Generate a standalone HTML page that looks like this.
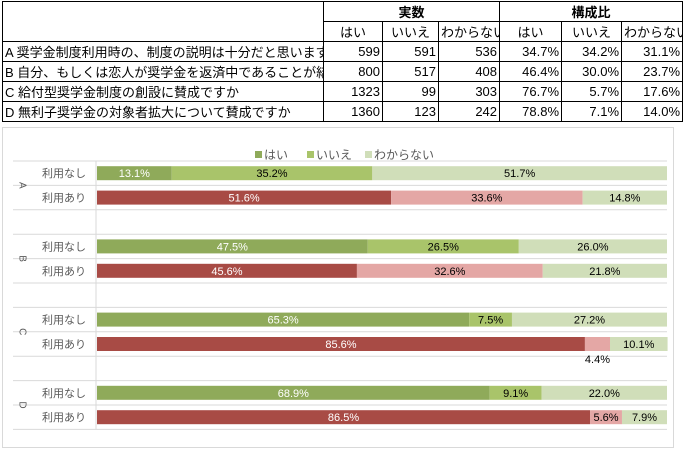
<!DOCTYPE html>
<html><head><meta charset="utf-8">
<style>
body{margin:0;width:684px;height:450px;background:#fff;font-family:"Liberation Sans","Noto Sans CJK JP",sans-serif;position:relative;overflow:hidden}
table{position:absolute;left:2px;top:1px;border-collapse:collapse;font-size:13px;color:#000;table-layout:fixed;width:680px}
td{border:1px solid #000;padding:0 2px;height:18px;white-space:nowrap;overflow:hidden}
td.n{text-align:right}
td.h{text-align:center}
#chart{position:absolute;left:0;top:0}
</style></head><body>
<table>
<colgroup><col style="width:321px"><col style="width:59px"><col style="width:56px"><col style="width:61px"><col style="width:62px"><col style="width:60px"><col style="width:61px"></colgroup>
<tr><td rowspan="2"></td><td colspan="3" class="h"><b>実数</b></td><td colspan="3" class="h"><b>構成比</b></td></tr>
<tr><td class="h">はい</td><td class="h">いいえ</td><td class="h">わからない</td><td class="h">はい</td><td class="h">いいえ</td><td class="h">わからない</td></tr>
<tr><td>A 奨学金制度利用時の、制度の説明は十分だと思いますか</td><td class="n">599</td><td class="n">591</td><td class="n">536</td><td class="n">34.7%</td><td class="n">34.2%</td><td class="n">31.1%</td></tr>
<tr><td>B 自分、もしくは恋人が奨学金を返済中であることが結婚に</td><td class="n">800</td><td class="n">517</td><td class="n">408</td><td class="n">46.4%</td><td class="n">30.0%</td><td class="n">23.7%</td></tr>
<tr><td>C 給付型奨学金制度の創設に賛成ですか</td><td class="n">1323</td><td class="n">99</td><td class="n">303</td><td class="n">76.7%</td><td class="n">5.7%</td><td class="n">17.6%</td></tr>
<tr><td>D 無利子奨学金の対象者拡大について賛成ですか</td><td class="n">1360</td><td class="n">123</td><td class="n">242</td><td class="n">78.8%</td><td class="n">7.1%</td><td class="n">14.0%</td></tr>
</table>
<svg id="chart" width="684" height="450"></svg>
<script>
const groups=["A","B","C","D"];
const rows=["利用なし","利用あり"];
const hai=[[13.1,51.6],[47.5,45.6],[65.3,85.6],[68.9,86.5]];
const iie=[[35.2,33.6],[26.5,32.6],[7.5,4.4],[9.1,5.6]];
const wak=[[51.7,14.8],[26.0,21.8],[27.2,10.1],[22.0,7.9]];
const seriesNames=["はい","いいえ","わからない"];
const svg=document.getElementById('chart');
const NS="http://www.w3.org/2000/svg";
function mk(t,a,txt){const el=document.createElementNS(NS,t);for(const k in a)el.setAttribute(k,a[k]);if(txt!==undefined)el.textContent=txt;svg.appendChild(el);return el;}
const x0=97,x1=667,plotTop=161,slot=24.4,bh=14;
const xs=v=>x0+(x1-x0)*v/100;
let e=mk('rect',{x:2.5,y:127.5,width:671,height:320,fill:'none',stroke:'#d9d9d9'});


const lc=[['#8faa5a','#a9c46a','#d0deb9'],['#a84b45','#e4a7a5','#d0deb9']];
const leg=[[255,'はい'],[307,'いいえ'],[365,'わからない']];
leg.forEach((l,i)=>{
 e=mk('rect',{x:l[0],y:151,width:7,height:7,fill:lc[0][i]});
 
 
 e=mk('text',{x:l[0]+9,y:159,'font-size':12,fill:'#595959'},seriesNames[i]);
 
 
});
const nSlots=11;
for(let i=0;i<=nSlots;i++){
 e=mk('line',{x1:13,x2:x1,y1:plotTop+i*slot,y2:plotTop+i*slot,stroke:'#d9d9d9','stroke-width':1});
 
 
}
e=mk('line',{x1:96,x2:96,y1:plotTop,y2:plotTop+nSlots*slot,stroke:'#d9d9d9'});


groups.forEach((g,gi)=>{
 const gy=plotTop+gi*3*slot+slot;
 e=mk('text',{x:22,y:gy,'font-size':10,fill:'#595959','text-anchor':'middle',transform:`rotate(90 22 ${gy})`,'dominant-baseline':'middle'},g);
 
 
 rows.forEach((r,ri)=>{
  const cy=plotTop+(gi*3+ri)*slot+slot/2;
  e=mk('text',{x:86,y:cy+4,'font-size':11,fill:'#595959','text-anchor':'end'},r);
  
  
  const vals=[hai[gi][ri],iie[gi][ri],wak[gi][ri]];
  let acc=0;
  vals.forEach((v,si)=>{
   const xa=xs(acc),xb=xs(acc+v);
   e=mk('rect',{x:xa,y:cy-bh/2,width:xb-xa,height:bh,fill:lc[ri][si]});
   
   
   const txt=v.toFixed(1)+'%';
   const small=(xb-xa)<30;
   const ty=small?cy+bh/2+12:cy+4;
   e=mk('text',{x:(xa+xb)/2,y:ty,'font-size':11,'text-anchor':'middle',fill:si===0?'#fff':'#000'},txt);
   
   
   acc+=v;
  });
 });
});
</script>
</body></html>
